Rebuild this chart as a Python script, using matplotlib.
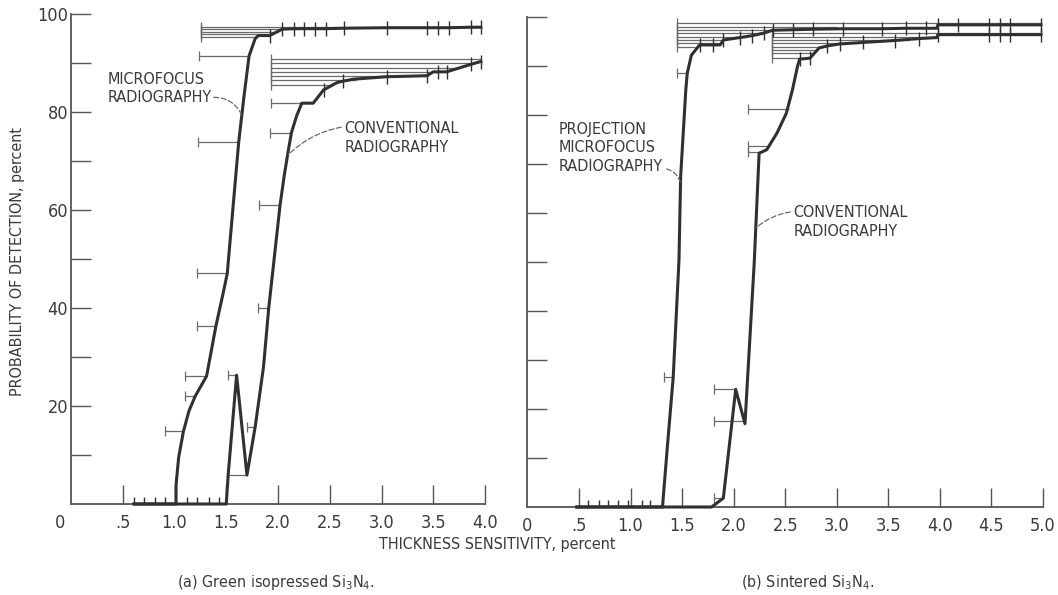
import numpy as np
import matplotlib
matplotlib.use("Agg")
import matplotlib.pyplot as plt
from matplotlib import font_manager as fm
from matplotlib.path import Path
from matplotlib.transforms import ScaledTranslation

# ---------------- (a) Green isopressed Si3N4 ----------------
a_micro_x = [0.61, 1.015, 1.015, 1.04, 1.086, 1.14, 1.20, 1.31, 1.40, 1.48, 1.51, 1.62, 1.667,
             1.72, 1.78, 1.81, 1.92, 2.04, 2.15, 2.25, 2.36, 2.46, 2.64, 3.05, 3.44, 3.55,
             3.65, 3.86, 3.96]
a_micro_y = [0, 0, 3.9, 9.5, 14.8, 19.0, 22.0, 26.1, 36.3, 44.0, 47.1, 73.8, 82.4,
             91.4, 95.0, 95.6, 95.6, 96.9, 97.0, 97.0, 97.0, 97.0, 97.1, 97.2, 97.2, 97.2,
             97.2, 97.3, 97.3]
a_micro_tick_x = [1.92, 2.04, 2.15, 2.25, 2.36, 2.46, 2.64, 3.05, 3.44, 3.55, 3.65, 3.86, 3.96]
a_micro_tick_y = [95.6, 96.9, 97.0, 97.0, 97.0, 97.0, 97.1, 97.2, 97.2, 97.2, 97.2, 97.3, 97.3]
a_micro_bar_y = [14.8, 22.0, 26.1, 36.3, 47.1, 73.8, 91.4, 95.4, 95.9, 96.4, 96.9, 97.4]
a_micro_bar_lo = [0.91, 1.10, 1.10, 1.22, 1.22, 1.23, 1.24, 1.26, 1.26, 1.26, 1.26, 1.26]
a_micro_bar_hi = [1.086, 1.20, 1.31, 1.40, 1.51, 1.62, 1.72, 1.79, 1.95, 2.00, 2.04, 2.64]

a_conv_x = [0.61, 1.50, 1.52, 1.60, 1.70, 1.78, 1.86, 1.91, 2.02, 2.06, 2.10, 2.13, 2.18,
            2.23, 2.34, 2.44, 2.57, 2.63, 2.73, 3.05, 3.44, 3.50, 3.63, 3.86, 3.96]
a_conv_y = [0, 0, 6.3, 26.3, 5.9, 15.8, 28.0, 39.9, 61.0, 67.0, 72.2, 75.8, 79.2,
            81.8, 81.8, 84.5, 86.0, 86.3, 86.7, 87.2, 87.4, 88.2, 88.2, 89.7, 90.3]
a_conv_tick_x = [2.44, 2.63, 3.05, 3.44, 3.55, 3.63, 3.86, 3.96]
a_conv_tick_y = [84.5, 86.3, 87.2, 87.4, 88.2, 88.2, 89.7, 90.3]
a_conv_bar_y = [6.0, 26.3, 15.8, 39.9, 61.0, 75.8, 81.8, 85.6, 86.5, 87.3, 88.2, 89.0, 89.9, 90.8]
a_conv_bar_lo = [1.51, 1.52, 1.70, 1.81, 1.82, 1.92, 1.93, 1.93, 1.93, 1.93, 1.93, 1.93, 1.93, 1.93]
a_conv_bar_hi = [1.70, 1.60, 1.78, 1.91, 2.02, 2.13, 2.23, 2.50, 2.75, 3.30, 3.55, 3.75, 3.90, 3.96]

a_zero_x = [0.61, 0.71, 0.81, 0.91, 1.12, 1.22, 1.33, 1.43]

# ---------------- (b) Sintered Si3N4 ----------------
b_proj_x = [0.48, 1.31, 1.36, 1.414, 1.47, 1.486, 1.536, 1.55, 1.59, 1.67, 1.80, 1.87, 1.90,
            2.06, 2.18, 2.29, 2.38, 2.58, 2.77, 3.06, 3.44, 3.67, 3.87, 3.97, 3.98, 4.18,
            4.48, 4.58, 4.68, 4.98]
b_proj_y = [0, 0, 13.0, 26.5, 50.4, 67.4, 85.1, 88.5, 92.2, 94.3, 94.3, 94.3, 95.3,
            95.8, 96.2, 96.7, 97.3, 97.4, 97.5, 97.6, 97.6, 97.7, 97.7, 97.7, 98.4, 98.4,
            98.4, 98.4, 98.4, 98.4]
b_proj_tick_x = [1.67, 1.80, 1.90, 2.06, 2.18, 2.29, 2.38, 2.58, 2.77, 3.06, 3.44, 3.67,
                 3.87, 3.98, 4.18, 4.48, 4.58, 4.68, 4.98]
b_proj_tick_y = [94.3, 94.3, 95.3, 95.8, 96.2, 96.7, 97.3, 97.4, 97.5, 97.6, 97.6, 97.7,
                 97.7, 98.4, 98.4, 98.4, 98.4, 98.4, 98.4]
b_proj_bar_y = [26.5, 88.5, 93.9, 94.6, 95.3, 96.0, 96.7, 97.3, 98.0, 98.8]
b_proj_bar_lo = [1.32, 1.447, 1.447, 1.447, 1.447, 1.447, 1.447, 1.447, 1.447, 1.447]
b_proj_bar_hi = [1.414, 1.55, 1.63, 1.90, 1.92, 2.12, 2.29, 2.38, 3.00, 4.98]

b_conv_x = [0.48, 1.786, 1.90, 2.02, 2.11, 2.20, 2.247, 2.32, 2.42, 2.51, 2.57, 2.62, 2.64,
            2.74, 2.83, 2.91, 3.03, 3.25, 3.56, 3.80, 3.97, 3.98, 4.48, 4.58, 4.68, 4.98]
b_conv_y = [0, 0, 1.8, 24.0, 17.0, 50.0, 72.2, 72.9, 76.3, 80.3, 85.1, 90.0, 91.4,
            91.6, 93.7, 94.1, 94.5, 94.8, 95.2, 95.6, 95.8, 96.4, 96.4, 96.4, 96.4, 96.4]
b_conv_tick_x = [2.64, 2.74, 2.91, 3.03, 3.25, 3.56, 3.80, 3.98, 4.48, 4.58, 4.68, 4.98]
b_conv_tick_y = [91.4, 91.6, 94.1, 94.5, 94.8, 95.2, 95.6, 96.4, 96.4, 96.4, 96.4, 96.4]
b_conv_bar_y = [1.8, 24.0, 17.5, 72.5, 73.6, 81.2, 91.6, 92.6, 93.3, 93.9, 94.6, 95.3, 96.0, 96.8]
b_conv_bar_lo = [1.81, 1.81, 1.81, 2.14, 2.14, 2.14, 2.37, 2.37, 2.37, 2.37, 2.37, 2.37, 2.37, 2.37]
b_conv_bar_hi = [1.90, 2.02, 2.11, 2.25, 2.32, 2.54, 2.64, 2.78, 2.81, 2.88, 3.10, 3.70, 3.97, 4.98]

b_zero_x = [0.59, 0.69, 0.78, 0.88, 0.98, 1.11, 1.19]

# ---------------- axis text ----------------
a_xticklabels = ["0", ".5", "1.0", "1.5", "2.0", "2.5", "3.0", "3.5", "4.0"]
b_xticklabels = ["0", ".5", "1.0", "1.5", "2.0", "2.5", "3.0", "3.5", "4.0", "4.5", "5.0"]
yticklabels = ["", "20", "", "40", "", "60", "", "80", "", "100"]

# ---------------- fonts & colours ----------------
available = {f.name for f in fm.fontManager.ttflist}
if "Liberation Sans Narrow" in available:
    plt.rcParams["font.family"] = ["Liberation Sans Narrow", "DejaVu Sans"]
else:
    plt.rcParams["font.family"] = ["DejaVu Sans"]
    plt.rcParams["font.stretch"] = "condensed"

INK = "#303030"
BAR = "#6a6a6a"
AXIS = "#555555"
TXT = "#3a3a3a"
FS_TICK = 13
FS = 11.5

up_tick = Path([[0, 0], [0, 1]])

fig = plt.figure(figsize=(10.58, 5.95), dpi=100)
fig.patch.set_facecolor("white")

ax_a = fig.add_axes([71 / 1058, 91 / 595, 414 / 1058, 490 / 595])
ax_b = fig.add_axes([527.4 / 1058, 88 / 595, 515.6 / 1058, 490 / 595])


def style_axes(ax, xmax, xlabels, ylabels):
    ax.set_xlim(0, xmax)
    ax.set_ylim(0, 100)
    for side in ("top", "right"):
        ax.spines[side].set_visible(False)
    ax.spines["left"].set_bounds(0, 100)
    ax.spines["bottom"].set_bounds(0, xmax)
    for side in ("left", "bottom"):
        ax.spines[side].set_color(AXIS)
        ax.spines[side].set_linewidth(1.3)
    ax.set_xticks(np.arange(0, xmax + 0.01, 0.5))
    ax.set_xticklabels(xlabels)
    ax.set_yticks(np.arange(10, 101, 10))
    ax.set_yticklabels(ylabels)
    ax.tick_params(axis="x", direction="in", length=13.5, width=1.0, color=AXIS,
                   labelcolor=TXT, labelsize=FS_TICK, pad=7.5)
    ax.tick_params(axis="y", direction="in", length=14.5, width=1.0, color=AXIS,
                   labelcolor=TXT, labelsize=FS_TICK, pad=2.0)
    ax.xaxis.get_major_ticks()[0].tick1line.set_visible(False)
    ax.set_facecolor("none")


def draw_series(ax, x, y, tx, ty, by, blo, bhi):
    ax.hlines(by, blo, bhi, colors=BAR, linewidth=0.9, clip_on=False, zorder=2)
    ax.plot(blo, by, ls="none", marker="|", ms=6.5, mew=0.9, color=BAR, clip_on=False, zorder=2)
    ax.plot(x, y, color=INK, lw=2.2, solid_joinstyle="round", clip_on=False, zorder=3)
    ax.plot(tx, ty, ls="none", marker="|", ms=10.5, mew=1.0, color=INK, clip_on=False, zorder=3)


def leader(ax, start, end, rad=-0.25):
    ax.annotate("", xy=end, xytext=start,
                arrowprops=dict(arrowstyle="-", color=BAR, lw=0.9, linestyle=(0, (4, 2)),
                                shrinkA=0, shrinkB=0, connectionstyle=f"arc3,rad={rad}"))


# ---- panel (a)
style_axes(ax_a, 4.0, a_xticklabels, yticklabels)
lab0 = ax_a.get_xticklabels()[0]
lab0.set_transform(lab0.get_transform() + ScaledTranslation(-11 / 100, 0, fig.dpi_scale_trans))
draw_series(ax_a, a_micro_x, a_micro_y, a_micro_tick_x, a_micro_tick_y,
            a_micro_bar_y, a_micro_bar_lo, a_micro_bar_hi)
draw_series(ax_a, a_conv_x, a_conv_y, a_conv_tick_x, a_conv_tick_y,
            a_conv_bar_y, a_conv_bar_lo, a_conv_bar_hi)
ax_a.plot(a_zero_x, np.zeros(len(a_zero_x)), ls="none", marker=up_tick, ms=10, mew=1.0,
          color=INK, clip_on=False, zorder=3)

ax_a.text(0.35, 84.8, "MICROFOCUS\nRADIOGRAPHY", ha="left", va="center", fontsize=FS,
          color=TXT, linespacing=1.3)
leader(ax_a, (1.38, 83.0), (1.645, 79.6), rad=-0.3)
ax_a.text(2.64, 74.7, "CONVENTIONAL\nRADIOGRAPHY", ha="left", va="center", fontsize=FS,
          color=TXT, linespacing=1.3)
leader(ax_a, (2.61, 76.9), (2.10, 71.3), rad=0.15)

# ---- panel (b)
style_axes(ax_b, 5.0, b_xticklabels, [""] * 10)
draw_series(ax_b, b_proj_x, b_proj_y, b_proj_tick_x, b_proj_tick_y,
            b_proj_bar_y, b_proj_bar_lo, b_proj_bar_hi)
draw_series(ax_b, b_conv_x, b_conv_y, b_conv_tick_x, b_conv_tick_y,
            b_conv_bar_y, b_conv_bar_lo, b_conv_bar_hi)
ax_b.plot(b_zero_x, np.zeros(len(b_zero_x)), ls="none", marker=up_tick, ms=10, mew=1.0,
          color=INK, clip_on=False, zorder=3)

ax_b.text(0.30, 73.3, "PROJECTION\nMICROFOCUS\nRADIOGRAPHY", ha="left", va="center",
          fontsize=FS, color=TXT, linespacing=1.3)
leader(ax_b, (1.35, 69.0), (1.486, 66.0), rad=-0.3)
ax_b.text(2.58, 58.2, "CONVENTIONAL\nRADIOGRAPHY", ha="left", va="center", fontsize=FS,
          color=TXT, linespacing=1.3)
leader(ax_b, (2.55, 60.2), (2.22, 57.0), rad=0.15)

# ---- shared labels and captions
fig.text(18 / 1058, 1 - 261 / 595, "PROBABILITY OF DETECTION, percent", rotation=90,
         ha="center", va="center", fontsize=FS, color=TXT)
fig.text(497 / 1058, 1 - 545 / 595, "THICKNESS SENSITIVITY, percent", ha="center",
         va="center", fontsize=FS, color=TXT)
fig.text(276 / 1058, 1 - 583 / 595, r"(a) Green isopressed Si$_\mathregular{3}$N$_\mathregular{4}$.",
         ha="center", va="center", fontsize=11.5, color=TXT)
fig.text(808 / 1058, 1 - 583 / 595, r"(b) Sintered Si$_\mathregular{3}$N$_\mathregular{4}$.",
         ha="center", va="center", fontsize=11.5, color=TXT)

fig.savefig("out.png", dpi=100, facecolor="white")
